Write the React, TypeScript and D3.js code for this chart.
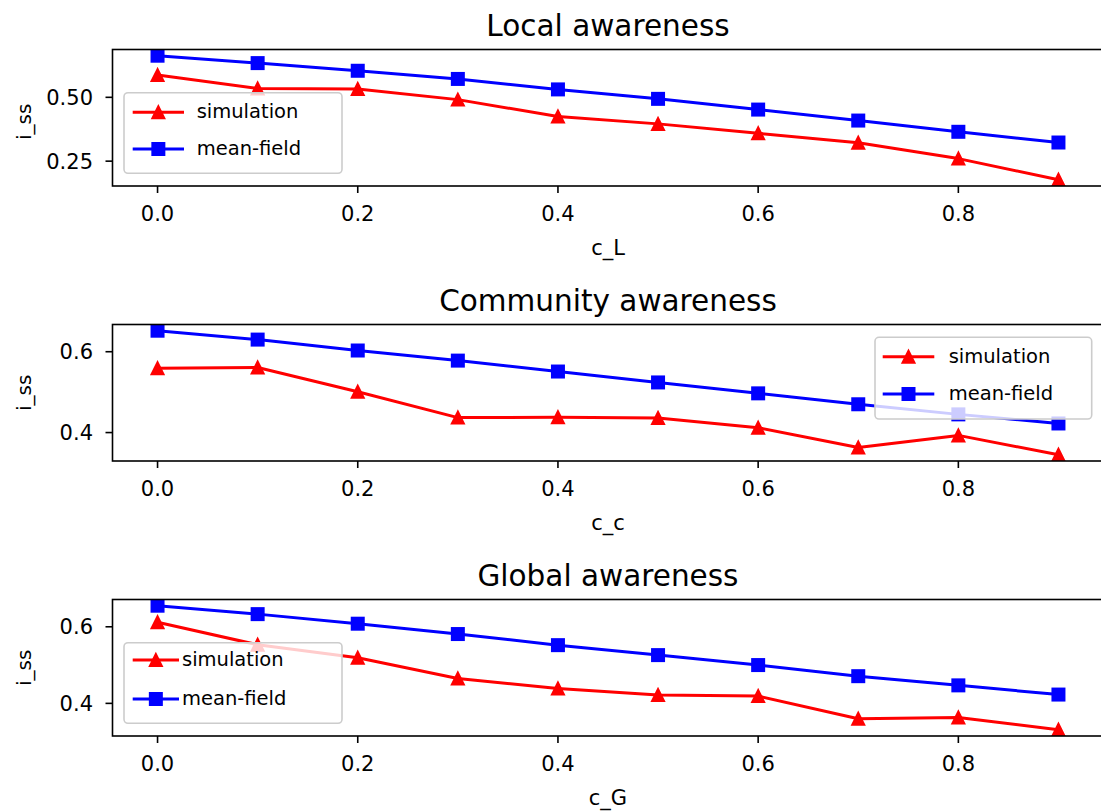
import React from 'react';
import * as d3 from 'd3';

const xValues = [0, 0.1, 0.2, 0.3, 0.4, 0.5, 0.6, 0.7, 0.8, 0.9];

const localSim = [0.587, 0.535, 0.533, 0.491, 0.425, 0.396, 0.359, 0.322, 0.26, 0.177];
const localMF = [0.663, 0.634, 0.604, 0.572, 0.531, 0.494, 0.452, 0.409, 0.365, 0.323];
const communitySim = [0.559, 0.561, 0.501, 0.437, 0.438, 0.436, 0.412, 0.363, 0.393, 0.345];
const communityMF = [0.652, 0.63, 0.603, 0.578, 0.551, 0.524, 0.497, 0.47, 0.445, 0.4225];
const globalSim = [0.612, 0.553, 0.519, 0.465, 0.439, 0.422, 0.419, 0.36, 0.363, 0.331];
const globalMF = [0.655, 0.633, 0.608, 0.581, 0.552, 0.526, 0.5, 0.471, 0.447, 0.423];

const titles = ['Local awareness', 'Community awareness', 'Global awareness'];
const xLabels = ['c_L', 'c_c', 'c_G'];
const yLabel = 'i_ss';
const seriesNames = ['simulation', 'mean-field'];
const xTicks = [0, 0.2, 0.4, 0.6, 0.8];
const xTickLabels = ['0.0', '0.2', '0.4', '0.6', '0.8'];
const yTicksLocal = [0.25, 0.5];
const yTickLabelsLocal = ['0.25', '0.50'];
const yTicksOther = [0.4, 0.6];
const yTickLabelsOther = ['0.4', '0.6'];

const FONT = 'DejaVu Sans, sans-serif';
const RED = '#ff0000';
const BLUE = '#0000ff';
const LEFT = 112.5;
const RIGHT = 1103.5;
const HEIGHT = 136.5;
const MS = 12;

const panels = [
  {
    top: 49.5, sim: localSim, mf: localMF, yTicks: yTicksLocal, yTickLabels: yTickLabelsLocal,
    legend: { x: 124, y: 92.7, w: 218, h: 80.6, h0: 8.7, h1: 60, tx: 72.7, r1: 19.6, r2: 56.3 },
    yLabelShift: 4,
  },
  {
    top: 324.5, sim: communitySim, mf: communityMF, yTicks: yTicksOther, yTickLabels: yTickLabelsOther,
    legend: { x: 875, y: 337.3, w: 216.7, h: 81.7, h0: 7.7, h1: 59.3, tx: 73.7, r1: 19.4, r2: 56.7 },
    yLabelShift: 0,
  },
  {
    top: 599.5, sim: globalSim, mf: globalMF, yTicks: yTicksOther, yTickLabels: yTickLabelsOther,
    legend: { x: 124, y: 642.7, w: 218, h: 80.6, h0: 8.7, h1: 55, tx: 58, r1: 17.3, r2: 56.3 },
    yLabelShift: 0,
  },
];

function triPath(cx: number, cy: number, s: number) {
  const h = s / 2;
  return `M${cx},${cy - h}L${cx - h},${cy + h}L${cx + h},${cy + h}Z`;
}

function Marker({ kind, cx, cy, color }: { kind: string; cx: number; cy: number; color: string }) {
  if (kind === 'tri') {
    return <path d={triPath(cx, cy, MS)} fill={color} stroke={color} strokeWidth={2} strokeLinejoin="miter" />;
  }
  return <rect x={cx - MS / 2} y={cy - MS / 2} width={MS} height={MS} fill={color} stroke={color} strokeWidth={2} />;
}

function Panel({ p, i }: { p: any; i: number }) {
  const x = d3.scaleLinear().domain([-0.045, 0.945]).range([LEFT, RIGHT]);
  const all = [...p.sim, ...p.mf];
  const [lo, hi] = d3.extent(all) as [number, number];
  const pad = (hi - lo) * 0.05;
  const bottom = p.top + HEIGHT;
  const y = d3.scaleLinear().domain([lo - pad, hi + pad]).range([bottom, p.top]);
  const line = d3.line<number>().x((_, k) => x(xValues[k])).y((d) => y(d));
  const clipId = `clip${i}`;
  const cx = (LEFT + RIGHT) / 2;
  const L = p.legend;
  const series = [
    { data: p.sim, color: RED, kind: 'tri' },
    { data: p.mf, color: BLUE, kind: 'sq' },
  ];
  return (
    <g>
      <defs>
        <clipPath id={clipId}>
          <rect x={LEFT} y={p.top} width={RIGHT - LEFT} height={HEIGHT} />
        </clipPath>
      </defs>
      <g clipPath={`url(#${clipId})`}>
        {series.map((s, si) => (
          <g key={si}>
            <path d={line(s.data) || ''} fill="none" stroke={s.color} strokeWidth={3} strokeLinejoin="round" />
            {s.data.map((v: number, k: number) => (
              <Marker key={k} kind={s.kind} cx={x(xValues[k])} cy={y(v)} color={s.color} />
            ))}
          </g>
        ))}
      </g>
      <rect x={LEFT} y={p.top} width={RIGHT - LEFT} height={HEIGHT} fill="none" stroke="#000" strokeWidth={1.6} />
      {xTicks.map((t, k) => (
        <g key={k}>
          <line x1={x(t)} x2={x(t)} y1={bottom} y2={bottom + 7} stroke="#000" strokeWidth={1.6} />
          <text x={x(t)} y={bottom + 35} textAnchor="middle" fontFamily={FONT} fontSize={21} fill="#000">
            {xTickLabels[k]}
          </text>
        </g>
      ))}
      {p.yTicks.map((t: number, k: number) => (
        <g key={k}>
          <line x1={LEFT - 7} x2={LEFT} y1={y(t)} y2={y(t)} stroke="#000" strokeWidth={1.6} />
          <text x={93} y={y(t) + 7.5} textAnchor="end" fontFamily={FONT} fontSize={21} fill="#000">
            {p.yTickLabels[k]}
          </text>
        </g>
      ))}
      <text x={cx} y={p.top - 14} textAnchor="middle" fontFamily={FONT} fontSize={29.5} fill="#000">
        {titles[i]}
      </text>
      <text x={cx} y={bottom + 69} textAnchor="middle" fontFamily={FONT} fontSize={21} fill="#000">
        {xLabels[i]}
      </text>
      <text
        transform={`translate(31,${(p.top + bottom) / 2 + p.yLabelShift}) rotate(-90)`}
        textAnchor="middle"
        fontFamily={FONT}
        fontSize={20}
        fill="#000"
      >
        {yLabel}
      </text>
      <g>
        <rect x={L.x} y={L.y} width={L.w} height={L.h} rx={4} ry={4} fill="#fff" fillOpacity={0.8} stroke="#cccccc" strokeWidth={1.6} />
        {series.map((s, si) => {
          const ry = L.y + (si === 0 ? L.r1 : L.r2);
          const hx0 = L.x + L.h0;
          const hx1 = L.x + L.h1;
          return (
            <g key={si}>
              <line x1={hx0} x2={hx1} y1={ry} y2={ry} stroke={s.color} strokeWidth={3} />
              <Marker kind={s.kind} cx={(hx0 + hx1) / 2} cy={ry} color={s.color} />
              <text x={L.x + L.tx} y={ry + 6} fontFamily={FONT} fontSize={19.5} fill="#000">
                {seriesNames[si]}
              </text>
            </g>
          );
        })}
      </g>
    </g>
  );
}

export default function App() {
  return (
    <svg
      width={1101}
      height={812}
      viewBox="0 0 1101 812"
      style={{ position: 'absolute', left: 0, top: 0, background: '#fff' }}
    >
      <rect x={0} y={0} width={1101} height={812} fill="#fff" />
      {panels.map((p, i) => (
        <Panel key={i} p={p} i={i} />
      ))}
    </svg>
  );
}
